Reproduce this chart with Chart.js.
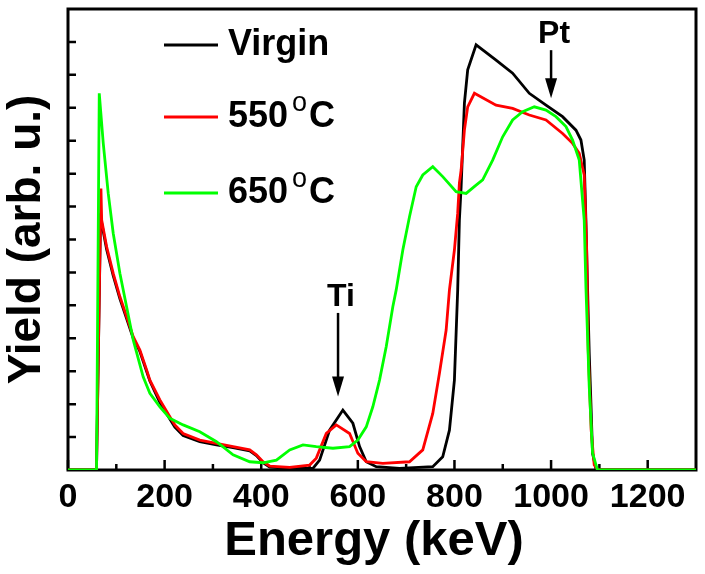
<!DOCTYPE html>
<html>
<head>
<meta charset="utf-8">
<script src="https://cdn.jsdelivr.net/npm/chart.js@4.4.1/dist/chart.umd.min.js"></script>
<style>
    html, body { margin: 0; padding: 0; background: #fff; }
    #wrap { width: 705px; height: 574px; }
</style>
</head>
<body>
<div id="wrap"><canvas id="rbsChart" width="705" height="574"></canvas></div>
<script>
const energiaVirgin = [0, 59, 67.5, 69.7, 80, 93.6, 107.5, 121.3, 135, 148.8, 162.7, 169.5, 190.2, 210.8, 221.2, 238.3, 272.8, 307.4, 341.7, 376.2, 390, 403.7, 417.5, 458.9, 507, 520.9, 541.5, 569, 589.7, 603.6, 617.4, 638.1, 686.2, 755.1, 775.7, 789.6, 799.9, 806.7, 810.2, 813.8, 820.6, 827.4, 844.8, 886.1, 920.4, 954.9, 989.5, 1023.8, 1051.5, 1061.8, 1068.6, 1072.1, 1075.4, 1079, 1082.5, 1085.8, 1092.7, 1099.6, 1300];
const yieldVirgin = [0, 0, 7.8, 7.5, 6.7, 5.9, 5.2, 4.6, 4.0, 3.6, 3.0, 2.7, 2.05, 1.55, 1.3, 1.05, 0.86, 0.76, 0.68, 0.58, 0.44, 0.22, 0.09, 0.05, 0.05, 0.30, 1.21, 1.82, 1.42, 0.71, 0.25, 0.10, 0.05, 0.10, 0.40, 1.21, 2.73, 5.47, 7.59, 8.60, 11.14, 12.15, 12.91, 12.45, 12.05, 11.44, 11.08, 10.73, 10.32, 10.02, 9.41, 7.59, 5.57, 3.54, 2.03, 0.51, 0.05, 0, 0];

const energia550 = [0, 59, 68.2, 69.7, 80, 93.6, 107.5, 121.3, 135, 148.8, 162.7, 169.5, 190.2, 210.8, 221.2, 238.3, 272.8, 307.4, 341.7, 376.2, 390, 403.7, 417.5, 458.9, 500.2, 514, 534.7, 555.4, 582.9, 600, 617.4, 651.7, 706.9, 734.4, 755.1, 768.9, 782.8, 789.6, 799.9, 806.7, 810.2, 813.8, 820.6, 827.4, 841.3, 886.1, 920.4, 954.9, 989.5, 1023.8, 1044.5, 1058.3, 1068.6, 1073.7, 1076.9, 1083, 1089.3, 1097.6, 1300];
const yield550 = [0, 0, 8.55, 7.59, 6.78, 5.97, 5.26, 4.66, 4.05, 3.64, 3.04, 2.73, 2.13, 1.62, 1.37, 1.11, 0.91, 0.81, 0.71, 0.61, 0.46, 0.25, 0.12, 0.08, 0.15, 0.36, 1.11, 1.37, 1.11, 0.51, 0.25, 0.20, 0.25, 0.61, 1.72, 2.94, 4.25, 5.47, 6.68, 7.80, 8.71, 9.11, 10.32, 11.03, 11.44, 11.08, 10.98, 10.78, 10.63, 10.22, 9.92, 9.62, 8.96, 6.68, 3.64, 1.21, 0.15, 0, 0];

const energia650 = [0, 59, 64.7, 73, 83.3, 93.6, 107.5, 121.3, 135, 155.6, 169.5, 190.2, 210.8, 238.3, 272.8, 307.4, 341.7, 376.2, 403.7, 431.4, 458.9, 486.4, 514, 548.4, 582.9, 600, 617.4, 631, 644.9, 658.7, 672.4, 679.4, 693.1, 706.9, 720.8, 734.4, 755.1, 775.7, 803.4, 824.1, 844.8, 858.4, 879.1, 899.8, 920.4, 941.1, 965.3, 989.5, 1010.1, 1030.8, 1044.5, 1058.3, 1068.6, 1072.1, 1079, 1085.8, 1096, 1300];
const yield650 = [0, 0, 11.44, 9.92, 8.40, 7.19, 5.97, 4.96, 3.95, 2.83, 2.33, 1.92, 1.57, 1.37, 1.16, 0.86, 0.46, 0.25, 0.22, 0.30, 0.61, 0.76, 0.71, 0.66, 0.71, 0.91, 1.31, 1.92, 2.73, 3.74, 4.96, 5.47, 6.68, 7.69, 8.60, 8.96, 9.21, 8.91, 8.45, 8.40, 8.65, 8.81, 9.41, 10.12, 10.63, 10.88, 11.03, 10.93, 10.73, 10.43, 10.02, 9.41, 7.59, 5.57, 2.53, 0.52, 0, 0];

// Etiquetas y marcas de los ejes
const nombresSeries = ['Virgin', '550 °C', '650 °C'];
const xTicks = [0, 200, 400, 600, 800, 1000, 1200];
const xTicksMenores = [100, 300, 500, 700, 900, 1100];
const yTicks = [1, 2, 3, 4, 5, 6, 7, 8, 9, 10, 11, 12, 13];
const tituloX = 'Energy (keV)';
const tituloY = 'Yield (arb. u.)';

// Picos señalados con flecha
const picos = ['Ti', 'Pt'];
const energiaPicos = [559, 1000];

const FUENTE = '"Liberation Sans", Arial, sans-serif';

function puntos(energia, valores) {
    return energia.map((e, i) => ({ x: e, y: valores[i] }));
}

// Marco y marcas hacia dentro
const marcoPlugin = {
    id: 'marco',
    beforeDatasetsDraw(chart) {
        const { ctx, chartArea: a, scales: { x, y } } = chart;
        ctx.save();
        ctx.strokeStyle = '#000';
        ctx.lineWidth = 3;
        ctx.strokeRect(a.left, a.top, a.right - a.left, a.bottom - a.top);
        ctx.lineWidth = 2.5;
        ctx.beginPath();
        xTicks.forEach(v => {
            const px = x.getPixelForValue(v);
            ctx.moveTo(px, a.bottom);
            ctx.lineTo(px, a.bottom - 10);
        });
        xTicksMenores.forEach(v => {
            const px = x.getPixelForValue(v);
            ctx.moveTo(px, a.bottom);
            ctx.lineTo(px, a.bottom - 6);
        });
        yTicks.forEach(v => {
            const py = y.getPixelForValue(v);
            ctx.moveTo(a.left, py);
            ctx.lineTo(a.left + 8, py);
        });
        ctx.stroke();

        // Título del eje X, algo desplazado a la izquierda como en el original
        ctx.fillStyle = '#000';
        ctx.font = 'bold 49px ' + FUENTE;
        ctx.textAlign = 'center';
        ctx.textBaseline = 'alphabetic';
        ctx.fillText(tituloX, 374, 555);
        ctx.restore();
    }
};

// Leyenda dentro del gráfico, con el "o" en superíndice
const leyendaPlugin = {
    id: 'leyenda',
    afterDatasetsDraw(chart) {
        const ctx = chart.ctx;
        const filas = [45, 117, 193];
        ctx.save();
        chart.data.datasets.forEach((ds, i) => {
            const yl = filas[i];
            ctx.strokeStyle = ds.borderColor;
            ctx.lineWidth = 3;
            ctx.beginPath();
            ctx.moveTo(164, yl);
            ctx.lineTo(218, yl);
            ctx.stroke();

            ctx.fillStyle = '#000';
            ctx.textBaseline = 'alphabetic';
            ctx.textAlign = 'left';
            ctx.font = 'bold 36px ' + FUENTE;
            const partes = ds.label.split(' °');
            let xt = 228;
            ctx.fillText(partes[0], xt, yl + 10);
            if (partes.length > 1) {
                xt += ctx.measureText(partes[0]).width + 4;
                ctx.font = '27px ' + FUENTE;
                ctx.fillText('o', xt, yl - 6);
                xt += ctx.measureText('o').width + 2;
                ctx.font = 'bold 36px ' + FUENTE;
                ctx.fillText(partes[1], xt, yl + 10);
            }
        });
        ctx.restore();
    }
};

// Flechas de Ti y Pt
const flechasPlugin = {
    id: 'flechas',
    afterDatasetsDraw(chart) {
        const { ctx, scales: { x, y } } = chart;
        const arriba = [4.77, 12.75];
        const punta = [2.23, 11.29];
        ctx.save();
        picos.forEach((txt, i) => {
            const px = x.getPixelForValue(energiaPicos[i]);
            const y0 = y.getPixelForValue(arriba[i]);
            const y1 = y.getPixelForValue(punta[i]);
            ctx.strokeStyle = '#000';
            ctx.fillStyle = '#000';
            ctx.lineWidth = 2.5;
            ctx.beginPath();
            ctx.moveTo(px, y0);
            ctx.lineTo(px, y1 - 15);
            ctx.stroke();
            ctx.beginPath();
            ctx.moveTo(px - 6, y1 - 20);
            ctx.lineTo(px + 6, y1 - 20);
            ctx.lineTo(px, y1);
            ctx.closePath();
            ctx.fill();
            ctx.font = 'bold 32px ' + FUENTE;
            ctx.textAlign = 'center';
            ctx.textBaseline = 'alphabetic';
            ctx.fillText(txt, px + 3, y0 - 7);
        });
        ctx.restore();
    }
};

const ctx = document.getElementById('rbsChart').getContext('2d');
const rbsChart = new Chart(ctx, {
    type: 'line',
    data: {
        datasets: [
            {
                label: nombresSeries[0],
                data: puntos(energiaVirgin, yieldVirgin),
                borderColor: '#000000',
                borderWidth: 2.8,
                order: 3
            },
            {
                label: nombresSeries[1],
                data: puntos(energia550, yield550),
                borderColor: '#ff0000',
                borderWidth: 2.8,
                order: 2
            },
            {
                label: nombresSeries[2],
                data: puntos(energia650, yield650),
                borderColor: '#00ff00',
                borderWidth: 2.8,
                order: 1
            }
        ]
    },
    options: {
        responsive: false,
        animation: false,
        devicePixelRatio: 1,
        layout: { padding: { top: 9, right: 9, left: 0, bottom: 0 } },
        elements: {
            point: { radius: 0 },
            line: { tension: 0, fill: false }
        },
        plugins: {
            legend: { display: false },
            tooltip: { enabled: false }
        },
        scales: {
            x: {
                type: 'linear',
                min: 0,
                max: 1300,
                grid: { display: false, drawTicks: false },
                border: { display: false },
                afterBuildTicks: scale => { scale.ticks = xTicks.map(v => ({ value: v })); },
                afterFit: scale => { scale.height = 104; },
                ticks: {
                    padding: 7,
                    color: '#000',
                    maxRotation: 0,
                    autoSkip: false,
                    callback: value => String(value),
                    font: { family: FUENTE, size: 34, weight: 'bold' }
                },
                title: { display: false }
            },
            y: {
                type: 'linear',
                min: 0,
                max: 14,
                grid: { display: false, drawTicks: false },
                border: { display: false },
                afterFit: scale => { scale.width = 68; },
                ticks: { display: false },
                title: {
                    display: true,
                    text: tituloY,
                    color: '#000',
                    padding: { top: 4, bottom: 0 },
                    font: { family: FUENTE, size: 46, weight: 'bold', lineHeight: 1 }
                }
            }
        }
    },
    plugins: [marcoPlugin, leyendaPlugin, flechasPlugin]
});
</script>
</body>
</html>
